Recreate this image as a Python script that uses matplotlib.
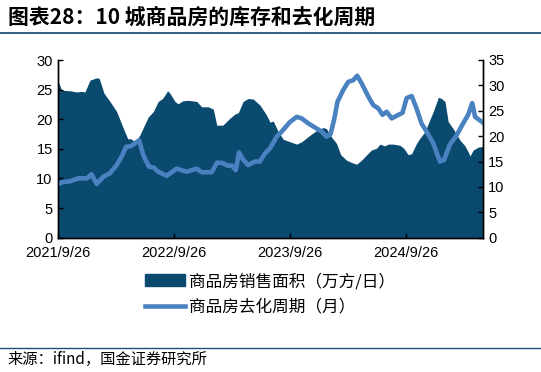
import matplotlib
matplotlib.use("Agg")
import matplotlib.pyplot as plt
from matplotlib.patches import Patch
from matplotlib.lines import Line2D

# ---- data (x = days since 2021-09-26) ----
area_days = [0, 11, 37, 58, 74, 84, 100, 121, 129, 144, 163, 184, 205, 219, 229, 242, 257, 284, 300, 315,
             329, 345, 352, 368, 378, 392, 410, 437, 452, 473, 489, 500, 519, 542, 558, 568, 583, 599, 615, 636,
             657, 668, 678, 694, 710, 731, 752, 768, 794, 815, 836, 846, 862, 878, 891, 909, 925, 941, 957, 973,
             988, 1004, 1015, 1030, 1041, 1057, 1078, 1090, 1104, 1115, 1130, 1141, 1157, 1172, 1183, 1199, 1209,
             1220, 1230, 1246, 1267, 1283, 1293, 1299, 1309, 1325, 1339]
sales_area = [26.3, 24.9, 24.8, 24.6, 24.7, 24.6, 26.6, 27.0, 26.9, 24.4, 23.0, 21.3, 18.5, 16.7, 16.7, 16.2, 17.3, 20.4, 21.3, 23.0,
              23.5, 24.8, 24.4, 23.0, 22.6, 23.1, 23.2, 23.0, 22.1, 22.1, 21.7, 19.0, 19.0, 20.2, 20.9, 21.1, 23.0, 23.5, 23.4, 22.4,
              20.7, 19.5, 19.7, 17.9, 16.6, 16.2, 15.8, 16.2, 17.3, 18.1, 18.6, 18.4, 17.0, 15.9, 14.0, 13.1, 12.7, 12.4, 13.1, 14.0,
              14.8, 15.1, 15.8, 15.5, 15.8, 15.8, 15.6, 15.1, 14.0, 14.2, 15.9, 16.8, 17.9, 19.9, 21.3, 23.7, 23.5,
              23.0, 19.6, 18.4, 16.5, 15.5, 14.5, 13.8, 14.8, 15.3, 15.4]

line_days = [0, 16, 37, 63, 90, 105, 121, 142, 163, 184, 200, 214, 228, 242, 255, 268, 286, 302, 315, 342,
             373, 405, 437, 452, 484, 501, 519, 534, 548, 560, 570, 583, 599, 620, 636, 652, 668, 689, 705, 731,
             752, 768, 789, 810, 831, 846, 859, 870, 881, 899, 915, 930, 943, 957, 978, 994, 1009, 1023, 1036, 1052,
             1067, 1086, 1099, 1115, 1130, 1146, 1162, 1183, 1204, 1217, 1235, 1257, 1277, 1293, 1306, 1315, 1339]
destock_cycle = [10.6, 11.0, 11.1, 11.7, 11.7, 12.5, 10.6, 12.0, 12.7, 14.3, 16.0, 17.9, 18.0, 18.6, 19.2, 16.3, 14.0, 13.8, 13.0, 12.2,
                 13.6, 13.0, 13.6, 12.9, 12.9, 14.8, 14.7, 14.2, 14.2, 13.3, 16.8, 15.4, 14.3, 15.0, 15.0, 16.6, 17.6, 19.9, 20.9, 22.8,
                 23.8, 23.5, 22.5, 21.7, 20.9, 19.9, 20.4, 23.2, 26.8, 29.1, 30.7, 31.0, 31.9, 30.4, 27.8, 26.1, 25.5, 24.2, 24.8, 23.5,
                 24.0, 24.6, 27.5, 27.9, 25.5, 22.5, 20.9, 18.6, 15.0, 15.3, 18.3, 20.2, 22.5, 24.2, 26.5, 23.8, 22.7]

tick_days = [0, 365, 730, 1096]
tick_labels = ["2021/9/26", "2022/9/26", "2023/9/26", "2024/9/26"]

title = "图表28：10 城商品房的库存和去化周期"
source = "来源：ifind，国金证券研究所"
label_area = "商品房销售面积（万方/日）"
label_line = "商品房去化周期（月）"

AREA_C = "#0b4a6f"
LINE_C = "#4a81c1"
CJK = ["Noto Sans CJK SC", "DejaVu Sans"]
NUM = ["Liberation Sans", "DejaVu Sans"]

fig = plt.figure(figsize=(5.41, 3.72), dpi=100)
ax = fig.add_axes([58.3 / 541, 1 - 237.7 / 372, (482.7 - 58.3) / 541, (237.7 - 60) / 372])
ax2 = ax.twinx()

ax.fill_between(area_days, sales_area, 0, color=AREA_C, linewidth=0)
ax2.plot(line_days, destock_cycle, color=LINE_C, linewidth=3.3, solid_joinstyle="round")

ax.set_xlim(0, 1339)
ax.set_ylim(0, 30)
ax2.set_ylim(0, 35)
ax.set_yticks(range(0, 31, 5))
ax2.set_yticks(range(0, 36, 5))
ax.set_xticks(tick_days)
ax.set_xticklabels(tick_labels)

for a in (ax, ax2):
    a.spines["top"].set_visible(False)
    for s in ("left", "right", "bottom"):
        a.spines[s].set_color("black")
        a.spines[s].set_linewidth(1.0)
    a.tick_params(direction="in", length=3.5, width=1, colors="black", labelsize=10.5, pad=4)
    for lbl in a.get_xticklabels() + a.get_yticklabels():
        lbl.set_family(NUM)
ax.tick_params(axis="x", pad=6)

# Title & rules
fig.text(8 / 541, 1 - 17 / 372, title, family=CJK, fontsize=15, fontweight="bold",
         va="center", ha="left")
fig.add_artist(Line2D([0, 1], [1 - 32.5 / 372] * 2, color="#1f4e79", linewidth=1.3))
fig.add_artist(Line2D([0, 1], [1 - 348 / 372] * 2, color="#1f4e79", linewidth=1.0))
fig.text(7 / 541, 1 - 359 / 372, source, family=CJK, fontsize=11, va="center", ha="left")

handles = [Patch(facecolor=AREA_C, edgecolor=AREA_C), Line2D([0], [0], color=LINE_C, linewidth=3.3)]
leg = fig.legend(handles, [label_area, label_line], loc="center left",
                 bbox_to_anchor=(145 / 541, 1 - 294.2 / 372), frameon=False,
                 prop={"family": CJK, "size": 12}, handlelength=2.4, handleheight=0.7,
                 labelspacing=0.5, handletextpad=0.25, borderpad=0, borderaxespad=0)

fig.savefig("out.png", dpi=100)
